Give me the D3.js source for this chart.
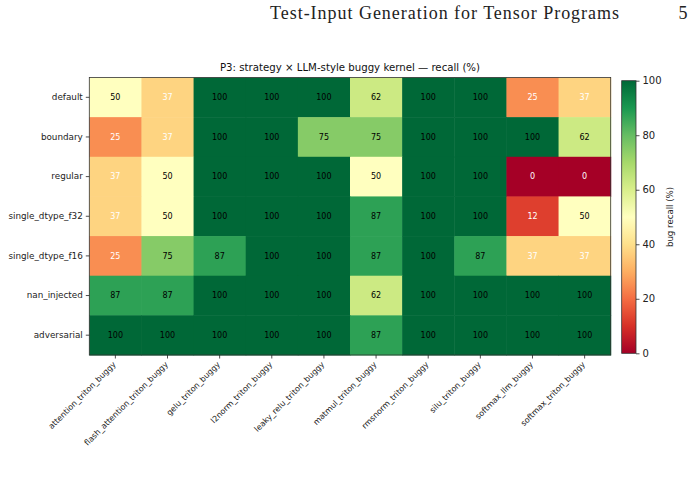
<!DOCTYPE html>
<html>
<head>
<meta charset="utf-8">
<script src="https://cdn.jsdelivr.net/npm/d3@7"></script>
<style>
  body { margin: 0; background: #fff; }
  svg { display: block; }
  text { font-family: "DejaVu Sans", sans-serif; }
</style>
</head>
<body>
<div id="chart"></div>
<script>
// strategies (rows) and kernels (columns)
const strategies = ["default", "boundary", "regular", "single_dtype_f32", "single_dtype_f16", "nan_injected", "adversarial"];
const kernels = ["attention_triton_buggy", "flash_attention_triton_buggy", "gelu_triton_buggy", "l2norm_triton_buggy",
    "leaky_relu_triton_buggy", "matmul_triton_buggy", "rmsnorm_triton_buggy", "silu_triton_buggy",
    "softmax_llm_buggy", "softmax_triton_buggy"];
// recall (%) per strategy, one array per row
const recallDefault = [50, 37.5, 100, 100, 100, 62.5, 100, 100, 25, 37.5];
const recallBoundary = [25, 37.5, 100, 100, 75, 75, 100, 100, 100, 62.5];
const recallRegular = [37.5, 50, 100, 100, 100, 50, 100, 100, 0, 0];
const recallF32 = [37.5, 50, 100, 100, 100, 87.5, 100, 100, 12.5, 50];
const recallF16 = [25, 75, 87.5, 100, 100, 87.5, 100, 87.5, 37.5, 37.5];
const recallNan = [87.5, 87.5, 100, 100, 100, 62.5, 100, 100, 100, 100];
const recallAdversarial = [100, 100, 100, 100, 100, 87.5, 100, 100, 100, 100];
const recallRows = [recallDefault, recallBoundary, recallRegular, recallF32, recallF16, recallNan, recallAdversarial];
const colorbarTicks = [0, 20, 40, 60, 80, 100];

const width = 691, height = 491;
const svg = d3.select("#chart").append("svg").attr("width", width).attr("height", height);

// page header (paper layout)
svg.append("text").attr("x", 270).attr("y", 19.3)
    .style("font-family", "'Liberation Serif', 'DejaVu Serif', serif").style("font-size", "18px")
    .attr("textLength", 349).attr("lengthAdjust", "spacing")
    .attr("fill", "#222").text("Test-Input Generation for Tensor Programs");
svg.append("text").attr("x", 678.5).attr("y", 19.3)
    .style("font-family", "'Liberation Serif', 'DejaVu Serif', serif").style("font-size", "18px")
    .attr("fill", "#222").text("5");

const plot = {left: 89.3, right: 610.7, top: 77.5, bottom: 355};
const x = d3.scaleBand().domain(kernels).range([plot.left, plot.right]);
const y = d3.scaleBand().domain(strategies).range([plot.top, plot.bottom]);

// matplotlib RdYlGn: piecewise linear through the 11 brewer colours
const brewer = d3.schemeRdYlGn[11];
const color = d3.scaleLinear().domain(d3.range(11).map(i => i * 10)).range(brewer)
    .interpolate(d3.interpolateRgb).clamp(true);

const cells = [];
strategies.forEach((s, i) => kernels.forEach((k, j) => cells.push({s: s, k: k, v: recallRows[i][j]})));

svg.append("g").selectAll("rect").data(cells).enter().append("rect")
    .attr("x", d => x(d.k)).attr("y", d => y(d.s))
    .attr("width", x.bandwidth() + 0.5).attr("height", y.bandwidth() + 0.5)
    .attr("fill", d => color(d.v));

svg.append("g").selectAll("text").data(cells).enter().append("text")
    .attr("x", d => x(d.k) + x.bandwidth() / 2).attr("y", d => y(d.s) + y.bandwidth() / 2)
    .attr("dy", "0.35em").attr("text-anchor", "middle").style("font-size", "8px")
    .attr("fill", d => d.v < 40 ? "#fff" : "#000")
    .text(d => Math.floor(d.v));

svg.append("rect").attr("x", plot.left).attr("y", plot.top)
    .attr("width", plot.right - plot.left).attr("height", plot.bottom - plot.top)
    .attr("fill", "none").attr("stroke", "#333").attr("stroke-width", 0.8);

// y axis
const yAxis = svg.append("g").attr("transform", `translate(${plot.left},0)`)
    .call(d3.axisLeft(y).tickSize(3.5).tickPadding(3));
yAxis.select(".domain").remove();
yAxis.selectAll("text").style("font-size", "8.8px").style("font-family", "'DejaVu Sans', sans-serif").attr("fill", "#222");
yAxis.selectAll("line").attr("stroke", "#222").attr("stroke-width", 0.8);

// x axis
const xAxis = svg.append("g").attr("transform", `translate(0,${plot.bottom})`)
    .call(d3.axisBottom(x).tickSize(3.5).tickPadding(0));
xAxis.select(".domain").remove();
xAxis.selectAll("line").attr("stroke", "#222").attr("stroke-width", 0.8);
xAxis.selectAll("text").style("font-size", "8px").style("font-family", "'DejaVu Sans', sans-serif").attr("fill", "#222")
    .attr("text-anchor", "end").attr("dy", null).attr("y", 0)
    .attr("transform", "translate(1,10) rotate(-45)");

// title
svg.append("text").attr("x", (plot.left + plot.right) / 2).attr("y", 71)
    .attr("text-anchor", "middle").style("font-size", "10.2px").attr("fill", "#111")
    .text("P3: strategy \u00d7 LLM-style buggy kernel \u2014 recall (%)");

// colorbar
const cb = {left: 621.7, width: 14.3, top: 80.7, bottom: 353.3};
const cbScale = d3.scaleLinear().domain([0, 100]).range([cb.bottom, cb.top]);
const grad = svg.append("defs").append("linearGradient").attr("id", "cbgrad")
    .attr("x1", 0).attr("y1", 1).attr("x2", 0).attr("y2", 0);
grad.selectAll("stop").data(d3.range(0, 101, 5)).enter().append("stop")
    .attr("offset", d => d + "%").attr("stop-color", d => color(d));
svg.append("rect").attr("x", cb.left).attr("y", cb.top).attr("width", cb.width).attr("height", cb.bottom - cb.top)
    .attr("fill", "url(#cbgrad)").attr("stroke", "#333").attr("stroke-width", 0.8);
const cbAxis = svg.append("g").attr("transform", `translate(${cb.left + cb.width},0)`)
    .call(d3.axisRight(cbScale).tickValues(colorbarTicks).tickSize(3.5).tickPadding(3));
cbAxis.select(".domain").remove();
cbAxis.selectAll("line").attr("stroke", "#222").attr("stroke-width", 0.8);
cbAxis.selectAll("text").style("font-size", "10px").style("font-family", "'DejaVu Sans', sans-serif").attr("fill", "#222");
svg.append("text").attr("transform", `translate(673,${(cb.top + cb.bottom) / 2}) rotate(-90)`)
    .attr("text-anchor", "middle").style("font-size", "8.6px").attr("fill", "#222")
    .text("bug recall (%)");
</script>
</body>
</html>
